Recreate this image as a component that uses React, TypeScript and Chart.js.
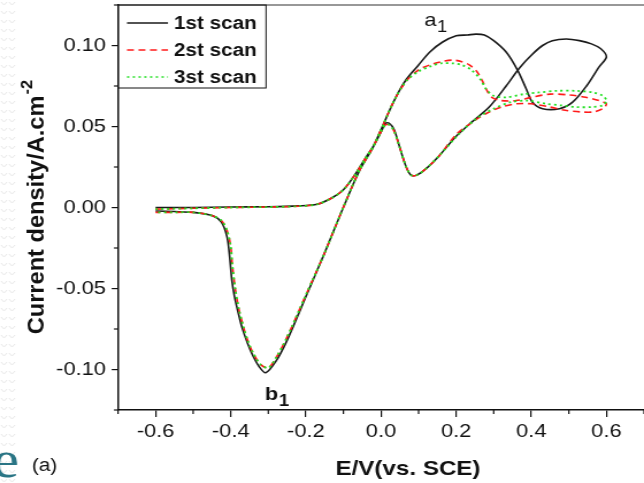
import React, { useEffect, useRef } from 'react';
import { Chart, registerables } from 'chart.js';

Chart.register(...registerables);

// ---------- data (E in V vs SCE, current density in A/cm2) ----------
const SCAN1_E = [
  -0.6, -0.5, -0.4, -0.3, -0.22, -0.17, -0.13, -0.1, -0.07, -0.04, -0.02, 0.0, 0.035, 0.067, 0.1, 0.13, 0.163, 0.2, 0.23, 0.253, 0.275, 0.3, 0.333, 0.363, 0.387, 0.403, 0.43, 0.475, 0.51, 0.547, 0.581, 0.6,
  0.585, 0.56, 0.528, 0.493, 0.456, 0.43, 0.4, 0.368, 0.333, 0.288, 0.243, 0.2, 0.155, 0.12, 0.095, 0.08, 0.067, 0.05, 0.035, 0.022, 0.012, 0.003, -0.024, -0.059, -0.104, -0.15, -0.2, -0.25, -0.28, -0.307,
  -0.325, -0.34, -0.355, -0.37, -0.38, -0.39, -0.397, -0.403, -0.41, -0.425, -0.45, -0.5, -0.55, -0.6,
];
const SCAN1_J = [
  0.0, 0.0, 0.0003, 0.0005, 0.001, 0.002, 0.006, 0.011, 0.02, 0.031, 0.038, 0.048, 0.066, 0.079, 0.088, 0.096, 0.102, 0.106, 0.1065, 0.107, 0.1065, 0.103, 0.096, 0.085, 0.073, 0.065, 0.061, 0.061, 0.065, 0.075, 0.087, 0.093,
  0.098, 0.101, 0.103, 0.104, 0.103, 0.1, 0.094, 0.086, 0.075, 0.062, 0.053, 0.044, 0.032, 0.024, 0.02, 0.02, 0.025, 0.037, 0.048, 0.052, 0.052, 0.048, 0.036, 0.022, -0.002, -0.028, -0.055, -0.082, -0.095, -0.102,
  -0.098, -0.092, -0.084, -0.074, -0.065, -0.055, -0.045, -0.03, -0.018, -0.009, -0.005, -0.003, -0.0025, -0.0022,
];

const SCAN2_E = [
  -0.6, -0.5, -0.4, -0.3, -0.22, -0.17, -0.13, -0.1, -0.07, -0.04, -0.02, 0.0, 0.035, 0.067, 0.1, 0.13, 0.16, 0.19, 0.215, 0.235, 0.255, 0.27, 0.28, 0.295, 0.32, 0.36, 0.4, 0.45, 0.5, 0.545, 0.58, 0.6,
  0.59, 0.565, 0.53, 0.49, 0.45, 0.4, 0.36, 0.32, 0.28, 0.245, 0.2, 0.155, 0.12, 0.095, 0.08, 0.067, 0.05, 0.035, 0.022, 0.012, 0.003, -0.024, -0.059, -0.104, -0.15, -0.2, -0.25, -0.28, -0.3,
  -0.32, -0.34, -0.355, -0.367, -0.378, -0.388, -0.396, -0.4, -0.41, -0.425, -0.45, -0.5, -0.55, -0.6,
];
const SCAN2_J = [
  -0.001, -0.0005, 0.0, 0.0003, 0.0008, 0.002, 0.006, 0.011, 0.02, 0.031, 0.038, 0.048, 0.066, 0.078, 0.085, 0.088, 0.09, 0.091, 0.09, 0.088, 0.084, 0.078, 0.073, 0.068, 0.066, 0.066, 0.068, 0.07, 0.0695, 0.068, 0.066, 0.064,
  0.061, 0.059, 0.059, 0.06, 0.062, 0.064, 0.064, 0.062, 0.058, 0.053, 0.045, 0.032, 0.024, 0.02, 0.02, 0.025, 0.037, 0.047, 0.051, 0.051, 0.048, 0.036, 0.022, -0.002, -0.028, -0.054, -0.08, -0.093, -0.099,
  -0.097, -0.09, -0.082, -0.073, -0.063, -0.05, -0.035, -0.024, -0.014, -0.008, -0.005, -0.003, -0.003, -0.003,
];

const SCAN3_E = [
  -0.6, -0.5, -0.4, -0.3, -0.22, -0.17, -0.13, -0.1, -0.07, -0.04, -0.02, 0.0, 0.035, 0.067, 0.1, 0.13, 0.16, 0.19, 0.215, 0.24, 0.265, 0.28, 0.3, 0.333, 0.38, 0.42, 0.467, 0.52, 0.565, 0.59, 0.6,
  0.59, 0.56, 0.52, 0.48, 0.44, 0.39, 0.345, 0.3, 0.255, 0.21, 0.155, 0.12, 0.095, 0.08, 0.067, 0.05, 0.035, 0.022, 0.012, 0.003, -0.024, -0.059, -0.104, -0.15, -0.2, -0.25, -0.28, -0.3,
  -0.32, -0.34, -0.355, -0.367, -0.378, -0.388, -0.396, -0.4, -0.41, -0.425, -0.45, -0.5, -0.55, -0.6,
];
const SCAN3_J = [
  -0.001, -0.0005, 0.0, 0.0003, 0.0008, 0.002, 0.006, 0.011, 0.02, 0.031, 0.038, 0.048, 0.066, 0.078, 0.084, 0.087, 0.089, 0.089, 0.088, 0.085, 0.079, 0.073, 0.069, 0.068, 0.07, 0.071, 0.072, 0.072, 0.071, 0.069, 0.066,
  0.063, 0.062, 0.062, 0.063, 0.064, 0.066, 0.065, 0.061, 0.055, 0.046, 0.032, 0.024, 0.02, 0.02, 0.025, 0.037, 0.047, 0.051, 0.051, 0.048, 0.036, 0.022, -0.002, -0.028, -0.054, -0.08, -0.093, -0.099,
  -0.097, -0.09, -0.082, -0.073, -0.063, -0.05, -0.035, -0.024, -0.014, -0.008, -0.005, -0.003, -0.003, -0.003,
];

const SERIES_NAMES = ['1st scan', '2st scan', '3st scan'];
const X_TICKS = [-0.6, -0.4, -0.2, 0, 0.2, 0.4, 0.6];
const X_MINOR = [-0.7, -0.5, -0.3, -0.1, 0.1, 0.3, 0.5, 0.7];
const Y_TICKS = [-0.1, -0.05, 0, 0.05, 0.1];
const Y_MINOR = [-0.125, -0.075, -0.025, 0.025, 0.075, 0.125];
const X_TITLE = 'E/V(vs. SCE)';
const Y_TITLE = 'Current density/A.cm';
const Y_TITLE_SUP = '-2';
const PEAK_A = { main: 'a', sub: '1', E: 0.115, J: 0.112 };
const PEAK_B = { main: 'b', sub: '1', E: -0.309, J: -0.119 };
const SIDE_LETTER = 'e';
const PANEL_LABEL = '(a)';

// ---------- layout ----------
const SX = 1.15; // horizontal stretch of the reference picture
const W = Math.round(644 / SX);
const H = 483;
const rx = (x: number) => x / SX;
const FONT = '"Liberation Sans", Arial, sans-serif';
const COLORS = ['#1a1a1a', '#ff1a1a', '#22e022'];

const pts = (e: number[], j: number[]) => e.map((v, i) => ({ x: v, y: j[i] }));

const decor = {
  id: 'decor',
  beforeDraw(chart: any) {
    const ctx = chart.ctx;
    ctx.save();
    ctx.fillStyle = '#ffffff';
    ctx.fillRect(0, 0, chart.width, chart.height);
    ctx.strokeStyle = '#e8e8e8';
    ctx.lineWidth = 1;
    for (const cx of [4, 12]) {
      for (let y = 2; y < H; y += 9) {
        ctx.beginPath();
        ctx.moveTo(rx(cx - 3), y);
        ctx.lineTo(rx(cx), y + 3);
        ctx.lineTo(rx(cx + 3), y);
        ctx.stroke();
      }
    }
    ctx.restore();
  },
  afterDraw(chart: any) {
    const ctx = chart.ctx;
    const { left, right, top, bottom } = chart.chartArea;
    const xs = chart.scales.x;
    const ys = chart.scales.y;
    ctx.save();
    // top frame line
    ctx.strokeStyle = '#333';
    ctx.lineWidth = 1.2;
    ctx.beginPath();
    ctx.moveTo(left, top);
    ctx.lineTo(right, top);
    ctx.stroke();
    // minor ticks
    ctx.strokeStyle = '#111';
    ctx.lineWidth = 1.2;
    for (const v of X_MINOR) {
      const px = xs.getPixelForValue(v);
      ctx.beginPath();
      ctx.moveTo(px, bottom);
      ctx.lineTo(px, bottom + 4);
      ctx.stroke();
    }
    for (const v of Y_MINOR) {
      const py = ys.getPixelForValue(v);
      ctx.beginPath();
      ctx.moveTo(left, py);
      ctx.lineTo(left - 3.5, py);
      ctx.stroke();
    }
    // legend
    const lx0 = left, lx1 = rx(266), ly0 = top, ly1 = 88;
    ctx.strokeStyle = '#111';
    ctx.lineWidth = 1;
    ctx.strokeRect(lx0, ly0, lx1 - lx0, ly1 - ly0);
    const dashes = [[], [6, 4], [2, 3]];
    SERIES_NAMES.forEach((name, i) => {
      const y = 23 + i * 27;
      ctx.strokeStyle = COLORS[i];
      ctx.lineWidth = 1.5;
      ctx.setLineDash(dashes[i]);
      ctx.beginPath();
      ctx.moveTo(rx(127), y);
      ctx.lineTo(rx(168), y);
      ctx.stroke();
      ctx.setLineDash([]);
      ctx.fillStyle = '#111';
      ctx.font = `bold 18px ${FONT}`;
      ctx.textBaseline = 'middle';
      ctx.textAlign = 'left';
      ctx.fillText(name, rx(174), y + 1);
    });
    // peak labels
    ctx.fillStyle = '#111';
    ctx.textAlign = 'left';
    ctx.textBaseline = 'alphabetic';
    {
      const px = xs.getPixelForValue(PEAK_A.E);
      const py = ys.getPixelForValue(PEAK_A.J);
      ctx.font = `19px ${FONT}`;
      ctx.fillText(PEAK_A.main, px, py);
      const w = ctx.measureText(PEAK_A.main).width;
      ctx.font = `16px ${FONT}`;
      ctx.fillText(PEAK_A.sub, px + w + 0.5, py + 6);
    }
    {
      const px = xs.getPixelForValue(PEAK_B.E);
      const py = ys.getPixelForValue(PEAK_B.J);
      ctx.font = `bold 19px ${FONT}`;
      ctx.fillText(PEAK_B.main, px, py);
      const w = ctx.measureText(PEAK_B.main).width;
      ctx.font = `bold 16px ${FONT}`;
      ctx.fillText(PEAK_B.sub, px + w + 0.5, py + 6);
    }
    // x title
    ctx.font = `bold 21px ${FONT}`;
    ctx.textAlign = 'center';
    ctx.fillText(X_TITLE, rx(408), 475);
    // y title (rotated) with superscript
    ctx.save();
    ctx.translate(rx(36), 207);
    ctx.rotate(-Math.PI / 2);
    ctx.scale(1.18, 1);
    ctx.textAlign = 'left';
    ctx.font = `bold 20px ${FONT}`;
    const w1 = ctx.measureText(Y_TITLE).width;
    ctx.font = `bold 14px ${FONT}`;
    const w2 = ctx.measureText(Y_TITLE_SUP).width;
    const tot = w1 + w2 + 1;
    ctx.font = `bold 20px ${FONT}`;
    ctx.fillText(Y_TITLE, -tot / 2, 7);
    ctx.font = `bold 14px ${FONT}`;
    ctx.fillText(Y_TITLE_SUP, -tot / 2 + w1 + 1, -3);
    ctx.restore();
    // side letter and panel label
    ctx.textAlign = 'right';
    ctx.fillStyle = '#2a7585';
    ctx.font = `52px "Liberation Serif", "DejaVu Serif", serif`;
    ctx.fillText(SIDE_LETTER, rx(19), 477);
    ctx.textAlign = 'left';
    ctx.fillStyle = '#111';
    ctx.font = `18px ${FONT}`;
    ctx.fillText(PANEL_LABEL, rx(32), 471);
    ctx.restore();
  },
};

export default function App() {
  const ref = useRef<HTMLCanvasElement | null>(null);
  useEffect(() => {
    if (!ref.current) return;
    const chart = new Chart(ref.current, {
      type: 'scatter',
      data: {
        datasets: [
          { label: SERIES_NAMES[0], data: pts(SCAN1_E, SCAN1_J), borderColor: COLORS[0], borderWidth: 1.6, showLine: true, pointRadius: 0, tension: 0.3, order: 3 },
          { label: SERIES_NAMES[1], data: pts(SCAN2_E, SCAN2_J), borderColor: COLORS[1], borderWidth: 1.6, borderDash: [6, 4], showLine: true, pointRadius: 0, tension: 0.3, order: 2 },
          { label: SERIES_NAMES[2], data: pts(SCAN3_E, SCAN3_J), borderColor: COLORS[2], borderWidth: 1.8, borderDash: [2, 3], showLine: true, pointRadius: 0, tension: 0.3, order: 1 },
        ],
      },
      options: {
        responsive: false,
        animation: false,
        devicePixelRatio: 1,
        layout: { padding: { top: 5, left: 0, right: 0, bottom: 0 } },
        plugins: { legend: { display: false }, tooltip: { enabled: false } },
        scales: {
          x: {
            type: 'linear',
            min: -0.7,
            max: 0.7,
            afterFit: (s: any) => { s.height = 73; s.paddingLeft = 0; s.paddingRight = 0; },
            afterBuildTicks: (s: any) => { s.ticks = X_TICKS.map((v) => ({ value: v })); },
            ticks: { callback: (v: any) => Number(v).toFixed(1), color: '#111', font: { family: FONT, size: 19 }, padding: 3, maxRotation: 0, autoSkip: false },
            grid: { drawOnChartArea: false, drawTicks: true, tickLength: 7, color: '#111', lineWidth: 1.2 },
            border: { color: '#111', width: 1.5 },
          },
          y: {
            type: 'linear',
            min: -0.125,
            max: 0.125,
            afterFit: (s: any) => { s.width = rx(118); s.paddingTop = 0; s.paddingBottom = 0; },
            afterBuildTicks: (s: any) => { s.ticks = Y_TICKS.map((v) => ({ value: v })); },
            ticks: { callback: (v: any) => Number(v).toFixed(2), color: '#111', font: { family: FONT, size: 19 }, padding: 5, autoSkip: false },
            grid: { drawOnChartArea: false, drawTicks: true, tickLength: 5.5, color: '#111', lineWidth: 1.2 },
            border: { color: '#111', width: 1.5 },
          },
        },
      },
      plugins: [decor],
    } as any);
    return () => chart.destroy();
  }, []);
  return (
    <div style={{ position: 'absolute', left: 0, top: 0, width: 644, height: 483, background: '#fff' }}>
      <canvas ref={ref} width={W} height={H} style={{ width: '644px', height: '483px', display: 'block' }} />
    </div>
  );
}
